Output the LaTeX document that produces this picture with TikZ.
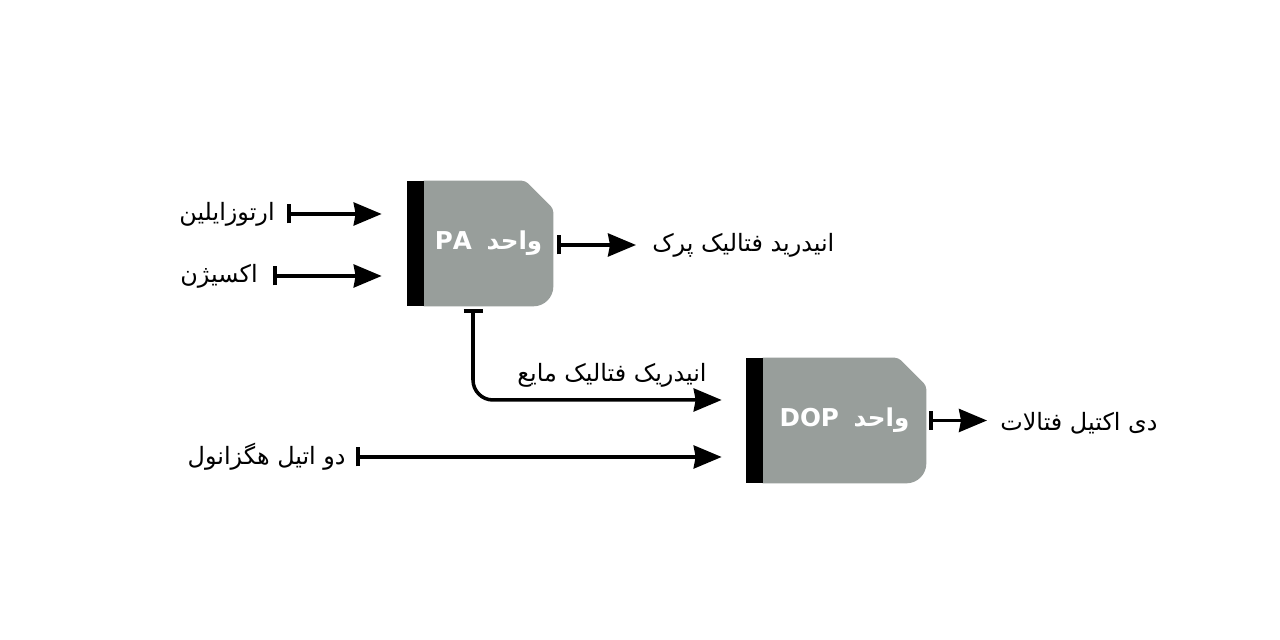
\documentclass[tikz,border=0pt]{standalone}
\usepackage{fontspec}
\newfontfamily\fa[Script=Arabic]{DejaVu Sans}
\TeXXeTstate=1
\usetikzlibrary{arrows.meta,positioning,backgrounds}

\definecolor{unitgray}{RGB}{152,158,155}
\newcommand{\rtl}[1]{\beginR #1\endR}
% grey unit with a chamfered corner and a black input bar
\newcommand{\unitshape}[1]{%
  \fill[unitgray, rounded corners=0.8mm] (#1.north west) -- ([xshift=-5.6mm]#1.north east)
    -- ([yshift=-5.6mm]#1.north east) [rounded corners=4mm] -- (#1.south east)
    [sharp corners] -- (#1.south west) -- cycle;
  \fill (#1.north west) rectangle ([xshift=-3.4mm]#1.south west);
}

\begin{document}
\begin{tikzpicture}[
  unit/.style={minimum width=2.58cm, minimum height=2.5cm, inner sep=0pt,
    text=white, font=\fa\bfseries\fontsize{14}{16}\selectfont},
  lbl/.style={inner sep=0pt, yshift=-0.4mm, font=\fa\fontsize{13.6}{16}\selectfont},
  flow/.style={line width=2pt,
    {Bar[width=3.8mm]}-{Stealth[length=5.6mm,width=4.6mm,inset=0.4mm]}}
  ]
  \useasboundingbox (0,0) rectangle (25.6,12.8);

  % units
  \node[unit] (pa) at (9.77,7.93) {\rtl{واحد\hspace{0.6em}\beginL PA\endL}};
  \node[unit, minimum width=3.26cm] (dop) at (16.89,4.39) {\rtl{واحد\hspace{0.6em}\beginL DOP\endL}};
  \begin{scope}[on background layer]
    \fill[white] (0,0) rectangle (25.6,12.8);
    \unitshape{pa}
    \unitshape{dop}
  \end{scope}

  % streams
  \node[lbl, anchor=east] (oxylene) at (5.5,8.56) {\rtl{ارتوزایلین}};
  \node[lbl, anchor=east] (oxygen) at (5.16,7.32) {\rtl{اکسیژن}};
  \node[lbl, anchor=west] (flake) at (13.04,7.94) {\rtl{انیدرید فتالیک پرک}};
  \node[lbl] (liquid) at (12.24,5.34) {\rtl{انیدریک فتالیک مایع}};
  \node[lbl, anchor=east] (ehexanol) at (6.92,3.7) {\rtl{دو اتیل هگزانول}};
  \node[lbl, anchor=west] (dopout) at (20.0,4.38) {\rtl{دی اکتیل فتالات}};

  \draw[flow, shorten <=2.4mm, shorten >=8.4mm] (oxylene.east) -- (oxylene.east -| pa.west);
  \draw[flow, shorten <=3mm, shorten >=8.4mm] (oxygen.east) -- (oxygen.east -| pa.west);
  \draw[flow, shorten <=0.8mm, shorten >=3.2mm] (flake.west -| pa.east) -- (flake.west);
  \draw[flow, rounded corners=4mm, shorten <=0.6mm, shorten >=8.2mm]
    ([xshift=-3.1mm]pa.south) |- ([yshift=4.1mm]dop.west);
  \draw[flow, shorten <=2mm, shorten >=8.2mm] (ehexanol.east) -- (ehexanol.east -| dop.west);
  \draw[flow, shorten <=0.6mm, shorten >=2.6mm] (dop.east) -- (dop.east -| dopout.west);
\end{tikzpicture}
\end{document}
